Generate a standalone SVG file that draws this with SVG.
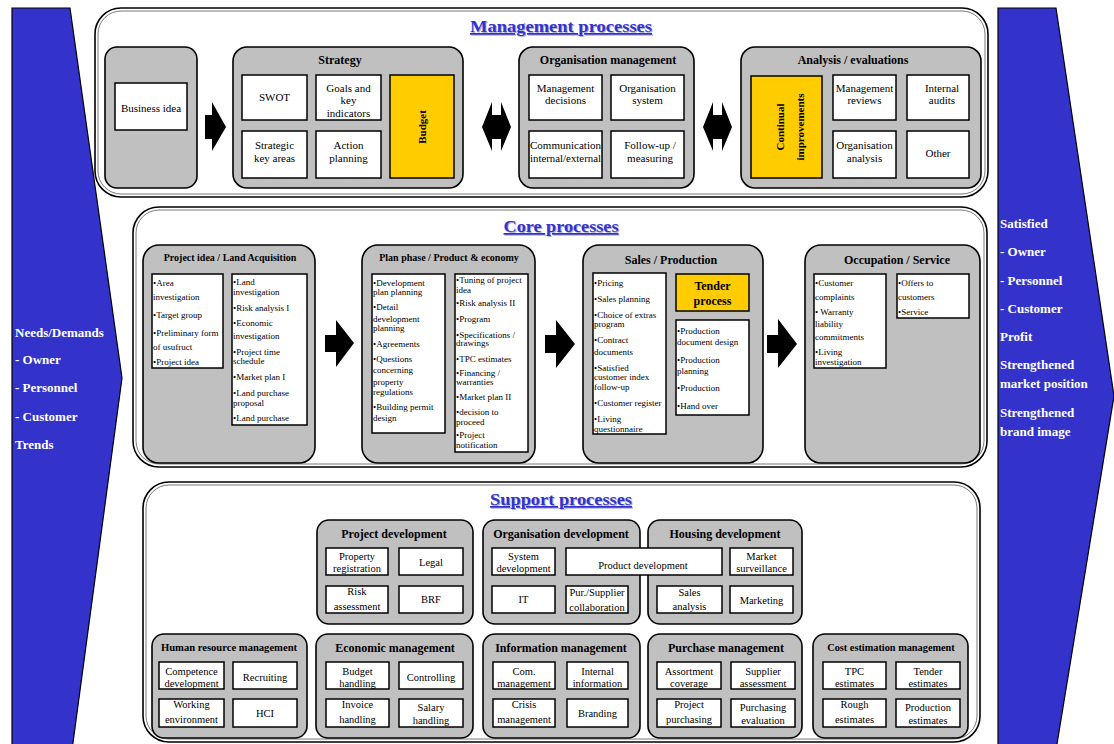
<svg xmlns="http://www.w3.org/2000/svg" width="1114" height="744" viewBox="0 0 1114 744">
<style>
.big{fill:#fff;stroke:#000;stroke-width:1.6}
.bigin{fill:none;stroke:#555;stroke-width:0.8}
.grp{fill:#c0c0c0;stroke:#000;stroke-width:1.6}
.box{fill:#fff;stroke:#000;stroke-width:1.5}
.yel{fill:#ffcc00;stroke:#000;stroke-width:1.5}
.blue{fill:#3333cc;stroke:#000;stroke-width:1.2}
.arr{fill:#000;stroke:none}
text{font-family:"Liberation Serif","Times New Roman",serif;fill:#000}
.t11{font-size:11px;text-anchor:middle}
.t10{font-size:10.5px;text-anchor:middle}
.h12{font-size:12px;font-weight:bold;text-anchor:middle}
.h10{font-size:10px;font-weight:bold;text-anchor:middle}
.li{font-size:9px}
.ttl{font-size:17px;font-weight:bold;text-anchor:middle;fill:#3333cc;text-decoration:underline}
.sh{font-size:17px;font-weight:bold;text-anchor:middle;fill:#b0b0d8;text-decoration:underline}
.side{font-size:13px;font-weight:bold;fill:#fff}
.rot{font-size:11px;font-weight:bold;text-anchor:middle;dominant-baseline:central}
</style>

<!-- side arrows -->
<g id="input-arrow">
<polygon class="blue" points="12,8 70,8 122,378 72,750 12,750"/>
<text class="side" x="15" y="337">Needs/Demands</text>
<text class="side" x="15" y="364">- Owner</text>
<text class="side" x="15" y="392">- Personnel</text>
<text class="side" x="15" y="421">- Customer</text>
<text class="side" x="15" y="449">Trends</text>
</g>
<g id="output-arrow">
<polygon class="blue" points="998,8 1056,8 1114,396 1056,750 998,750"/>
<text class="side" x="1000" y="228">Satisfied</text>
<text class="side" x="1000" y="256">- Owner</text>
<text class="side" x="1000" y="285">- Personnel</text>
<text class="side" x="1000" y="313">- Customer</text>
<text class="side" x="1000" y="341">Profit</text>
<text class="side" x="1000" y="369">Strengthened</text>
<text class="side" x="1000" y="388">market position</text>
<text class="side" x="1000" y="417">Strengthened</text>
<text class="side" x="1000" y="436">brand image</text>
</g>

<!-- Management processes -->
<g id="management">
<rect class="big" x="95" y="8" width="893" height="189" rx="26"/>
<rect class="bigin" x="98" y="11" width="887" height="183" rx="23"/>
<text class="sh" x="562" y="33" textLength="182" lengthAdjust="spacingAndGlyphs">Management processes</text>
<text class="ttl" x="561" y="32" textLength="182" lengthAdjust="spacingAndGlyphs">Management processes</text>
</g>
<g id="business-idea">
<rect class="grp" x="105" y="47" width="92" height="141" rx="12"/>
<rect class="box" x="115" y="83" width="72" height="47"/>
<text class="t11" x="151" y="112">Business idea</text>
</g>
<g id="strategy">
<rect class="grp" x="233" y="47" width="230" height="141" rx="14"/>
<text class="h12" x="340" y="64">Strategy</text>
<rect class="box" x="242" y="75" width="65" height="45"/>
<text class="t11" x="274.5" y="101">SWOT</text>
<rect class="box" x="316" y="75" width="65" height="45"/>
<text class="t11" x="348.5" y="92">Goals and</text>
<text class="t11" x="348.5" y="104">key</text>
<text class="t11" x="348.5" y="117">indicators</text>
<rect class="box" x="242" y="131" width="65" height="47"/>
<text class="t11" x="274.5" y="149">Strategic</text>
<text class="t11" x="274.5" y="162">key areas</text>
<rect class="box" x="316" y="131" width="65" height="47"/>
<text class="t11" x="348.5" y="149">Action</text>
<text class="t11" x="348.5" y="162">planning</text>
<rect class="yel" x="390" y="75" width="64" height="103"/>
<text class="rot" transform="translate(422,127) rotate(-90)">Budget</text>
</g>
<g id="organisation-management">
<rect class="grp" x="519" y="47" width="175" height="141" rx="14"/>
<text class="h12" x="608" y="64">Organisation management</text>
<rect class="box" x="529" y="75" width="73" height="45"/>
<text class="t11" x="565.5" y="92">Management</text>
<text class="t11" x="565.5" y="104">decisions</text>
<rect class="box" x="611" y="75" width="73" height="45"/>
<text class="t11" x="647.5" y="92">Organisation</text>
<text class="t11" x="647.5" y="104">system</text>
<rect class="box" x="529" y="131" width="73" height="47"/>
<text class="t11" x="565.5" y="149" textLength="71" lengthAdjust="spacingAndGlyphs">Communication</text>
<text class="t11" x="565.5" y="162" textLength="71" lengthAdjust="spacingAndGlyphs">internal/external</text>
<rect class="box" x="611" y="131" width="73" height="47"/>
<text class="t11" x="650" y="149">Follow-up /</text>
<text class="t11" x="650" y="162">measuring</text>
</g>
<g id="analysis-evaluations">
<rect class="grp" x="741" y="47" width="240" height="141" rx="14"/>
<text class="h12" x="853" y="64">Analysis / evaluations</text>
<rect class="yel" x="751" y="76" width="71" height="102"/>
<text class="rot" transform="translate(780,127) rotate(-90)">Continual</text>
<text class="rot" transform="translate(800,127) rotate(-90)">improvements</text>
<rect class="box" x="833" y="75" width="63" height="45"/>
<text class="t11" x="864.5" y="92">Management</text>
<text class="t11" x="864.5" y="104">reviews</text>
<rect class="box" x="907" y="75" width="62" height="45"/>
<text class="t11" x="942" y="92">Internal</text>
<text class="t11" x="942" y="104">audits</text>
<rect class="box" x="833" y="131" width="63" height="47"/>
<text class="t11" x="864.5" y="149">Organisation</text>
<text class="t11" x="864.5" y="162">analysis</text>
<rect class="box" x="907" y="131" width="62" height="47"/>
<text class="t11" x="938" y="157">Other</text>
</g>

<!-- Core processes -->
<g id="core">
<rect class="big" x="133" y="207" width="854" height="260" rx="26"/>
<rect class="bigin" x="136" y="210" width="848" height="254" rx="23"/>
<text class="sh" x="562" y="233" textLength="115" lengthAdjust="spacingAndGlyphs">Core processes</text>
<text class="ttl" x="561" y="232" textLength="115" lengthAdjust="spacingAndGlyphs">Core processes</text>
</g>
<g id="project-idea">
<rect class="grp" x="143" y="245" width="172" height="218" rx="16"/>
<text class="h10" x="230" y="261">Project idea / Land Acquisition</text>
<rect class="box" x="152" y="274" width="71" height="94"/>
<text class="li"><tspan x="153" y="286">•Area</tspan><tspan x="153" y="300">investigation</tspan><tspan x="153" y="318">•Target group</tspan><tspan x="153" y="336">•Preliminary form</tspan><tspan x="153" y="350">of usufruct</tspan><tspan x="153" y="365">•Project idea</tspan></text>
<rect class="box" x="232" y="274" width="75" height="151"/>
<text class="li"><tspan x="233" y="285">•Land</tspan><tspan x="233" y="295">investigation</tspan><tspan x="233" y="311">•Risk analysis I</tspan><tspan x="233" y="326">•Economic</tspan><tspan x="233" y="339">investigation</tspan><tspan x="233" y="355">•Project time</tspan><tspan x="233" y="364">schedule</tspan><tspan x="233" y="380">•Market plan I</tspan><tspan x="233" y="396">•Land purchase</tspan><tspan x="233" y="406">proposal</tspan><tspan x="233" y="421">•Land purchase</tspan></text>
</g>
<g id="plan-phase">
<rect class="grp" x="362" y="245" width="173" height="218" rx="16"/>
<text class="h10" x="449" y="261">Plan phase / Product &amp; economy</text>
<rect class="box" x="372" y="274" width="73" height="159"/>
<text class="li"><tspan x="373" y="286">•Development</tspan><tspan x="373" y="295">plan planning</tspan><tspan x="373" y="310">•Detail</tspan><tspan x="373" y="322">development</tspan><tspan x="373" y="331">planning</tspan><tspan x="373" y="347">•Agreements</tspan><tspan x="373" y="362">•Questions</tspan><tspan x="373" y="373">concerning</tspan><tspan x="373" y="385">property</tspan><tspan x="373" y="395">regulations</tspan><tspan x="373" y="410">•Building permit</tspan><tspan x="373" y="421">design</tspan></text>
<rect class="box" x="455" y="274" width="73" height="178"/>
<text class="li"><tspan x="456" y="283">•Tuning of project</tspan><tspan x="456" y="293">idea</tspan><tspan x="456" y="306">•Risk analysis II</tspan><tspan x="456" y="322">•Program</tspan><tspan x="456" y="338">•Specifications /</tspan><tspan x="456" y="346">drawings</tspan><tspan x="456" y="362">•TPC estimates</tspan><tspan x="456" y="376">•Financing /</tspan><tspan x="456" y="385">warranties</tspan><tspan x="456" y="400">•Market plan II</tspan><tspan x="456" y="415">•decision to</tspan><tspan x="456" y="425">proceed</tspan><tspan x="456" y="438">•Project</tspan><tspan x="456" y="448">notification</tspan></text>
</g>
<g id="sales-production">
<rect class="grp" x="583" y="245" width="180" height="218" rx="16"/>
<text class="h12" x="671" y="264">Sales / Production</text>
<rect class="box" x="593" y="273" width="73" height="161"/>
<text class="li"><tspan x="594" y="286">•Pricing</tspan><tspan x="594" y="302">•Sales planning</tspan><tspan x="594" y="318">•Choice of extras</tspan><tspan x="594" y="327">program</tspan><tspan x="594" y="343">•Contract</tspan><tspan x="594" y="355">documents</tspan><tspan x="594" y="371">•Satisfied</tspan><tspan x="594" y="380">customer index</tspan><tspan x="594" y="390">follow-up</tspan><tspan x="594" y="406">•Customer register</tspan><tspan x="594" y="422">•Living</tspan><tspan x="594" y="432">questionnaire</tspan></text>
<rect class="yel" x="676" y="274" width="73" height="37"/>
<text class="h12" x="712.5" y="290">Tender</text>
<text class="h12" x="712.5" y="305">process</text>
<rect class="box" x="676" y="320" width="73" height="95"/>
<text class="li"><tspan x="677" y="334">•Production</tspan><tspan x="677" y="345">document design</tspan><tspan x="677" y="363">•Production</tspan><tspan x="677" y="374">planning</tspan><tspan x="677" y="391">•Production</tspan><tspan x="677" y="409">•Hand over</tspan></text>
</g>
<g id="occupation-service">
<rect class="grp" x="805" y="245" width="175" height="218" rx="16"/>
<text class="h12" x="897" y="264">Occupation / Service</text>
<rect class="box" x="814" y="274" width="72" height="94"/>
<text class="li"><tspan x="815" y="286">•Customer</tspan><tspan x="815" y="300">complaints</tspan><tspan x="815" y="315">•  Warranty</tspan><tspan x="815" y="327">liability</tspan><tspan x="815" y="340">commitments</tspan><tspan x="815" y="355">•Living</tspan><tspan x="815" y="365">investigation</tspan></text>
<rect class="box" x="897" y="274" width="72" height="44"/>
<text class="li"><tspan x="898" y="286">•Offers to</tspan><tspan x="898" y="300">customers</tspan><tspan x="898" y="315">•Service</tspan></text>
</g>

<!-- Support processes -->
<g id="support">
<rect class="big" x="143" y="482" width="837" height="260" rx="26"/>
<rect class="bigin" x="146" y="485" width="831" height="254" rx="23"/>
<text class="sh" x="562" y="506" textLength="142" lengthAdjust="spacingAndGlyphs">Support processes</text>
<text class="ttl" x="561" y="505" textLength="142" lengthAdjust="spacingAndGlyphs">Support processes</text>
</g>
<g id="project-development">
<rect class="grp" x="317" y="520" width="156" height="104" rx="12"/>
<text class="h12" x="394" y="538">Project development</text>
<rect class="box" x="326" y="548" width="62" height="27"/>
<text class="t10" x="357" y="560">Property</text><text class="t10" x="357" y="572">registration</text>
<rect class="box" x="399" y="548" width="64" height="27"/>
<text class="t10" x="431" y="566">Legal</text>
<rect class="box" x="326" y="586" width="62" height="27"/>
<text class="t10" x="357" y="595">Risk</text><text class="t10" x="357" y="610">assessment</text>
<rect class="box" x="399" y="586" width="64" height="27"/>
<text class="t10" x="431" y="603">BRF</text>
</g>
<g id="organisation-development">
<rect class="grp" x="483" y="520" width="157" height="104" rx="12"/>
<text class="h12" x="561" y="538">Organisation development</text>
<rect class="box" x="492" y="548" width="63" height="27"/>
<text class="t10" x="523.5" y="560">System</text><text class="t10" x="523.5" y="572">development</text>
<rect class="box" x="492" y="586" width="63" height="27"/>
<text class="t10" x="523.5" y="603">IT</text>
<rect class="box" x="566" y="586" width="62" height="27"/>
<text class="t10" x="597" y="596">Pur./Supplier</text><text class="t10" x="597" y="611">collaboration</text>
</g>
<g id="housing-development">
<rect class="grp" x="648" y="520" width="154" height="104" rx="12"/>
<text class="h12" x="725" y="538">Housing development</text>
<rect class="box" x="730" y="548" width="63" height="27"/>
<text class="t10" x="761.5" y="560">Market</text><text class="t10" x="761.5" y="572">surveillance</text>
<rect class="box" x="657" y="586" width="65" height="27"/>
<text class="t10" x="689.5" y="596">Sales</text><text class="t10" x="689.5" y="610">analysis</text>
<rect class="box" x="730" y="586" width="63" height="27"/>
<text class="t10" x="761.5" y="604">Marketing</text>
</g>
<g id="product-development">
<rect class="box" x="566" y="548" width="156" height="27"/>
<text class="t10" x="643" y="569">Product development</text>
</g>
<g id="human-resource-management">
<rect class="grp" x="152" y="634" width="155" height="104" rx="12"/>
<text class="h10" x="229" y="651" style="font-size:10.6px">Human resource management</text>
<rect class="box" x="159" y="662" width="65" height="27"/>
<text class="t10" x="191.5" y="675">Competence</text><text class="t10" x="191.5" y="687">development</text>
<rect class="box" x="233" y="662" width="64" height="27"/>
<text class="t10" x="265" y="681">Recruiting</text>
<rect class="box" x="159" y="699" width="65" height="28"/>
<text class="t10" x="191.5" y="708">Working</text><text class="t10" x="191.5" y="723">environment</text>
<rect class="box" x="233" y="699" width="64" height="28"/>
<text class="t10" x="265" y="717">HCI</text>
</g>
<g id="economic-management">
<rect class="grp" x="316" y="634" width="157" height="104" rx="12"/>
<text class="h12" x="395" y="652">Economic management</text>
<rect class="box" x="326" y="662" width="63" height="27"/>
<text class="t10" x="357.5" y="675">Budget</text><text class="t10" x="357.5" y="687">handling</text>
<rect class="box" x="399" y="662" width="64" height="27"/>
<text class="t10" x="431" y="681">Controlling</text>
<rect class="box" x="326" y="699" width="63" height="28"/>
<text class="t10" x="357.5" y="708">Invoice</text><text class="t10" x="357.5" y="723">handling</text>
<rect class="box" x="399" y="699" width="64" height="28"/>
<text class="t10" x="431" y="711">Salary</text><text class="t10" x="431" y="724">handling</text>
</g>
<g id="information-management">
<rect class="grp" x="483" y="634" width="157" height="104" rx="12"/>
<text class="h12" x="561" y="652">Information management</text>
<rect class="box" x="493" y="662" width="62" height="27"/>
<text class="t10" x="524" y="675">Com.</text><text class="t10" x="524" y="687">management</text>
<rect class="box" x="567" y="662" width="61" height="27"/>
<text class="t10" x="597.5" y="675">Internal</text><text class="t10" x="597.5" y="687">information</text>
<rect class="box" x="493" y="699" width="62" height="28"/>
<text class="t10" x="524" y="708">Crisis</text><text class="t10" x="524" y="723">management</text>
<rect class="box" x="567" y="699" width="61" height="28"/>
<text class="t10" x="597.5" y="717">Branding</text>
</g>
<g id="purchase-management">
<rect class="grp" x="648" y="634" width="154" height="104" rx="12"/>
<text class="h12" x="726" y="652">Purchase management</text>
<rect class="box" x="657" y="662" width="64" height="27"/>
<text class="t10" x="689" y="675">Assortment</text><text class="t10" x="689" y="687">coverage</text>
<rect class="box" x="731" y="662" width="64" height="27"/>
<text class="t10" x="763" y="675">Supplier</text><text class="t10" x="763" y="687">assessment</text>
<rect class="box" x="657" y="699" width="64" height="28"/>
<text class="t10" x="689" y="708">Project</text><text class="t10" x="689" y="723">purchasing</text>
<rect class="box" x="731" y="699" width="64" height="28"/>
<text class="t10" x="763" y="711">Purchasing</text><text class="t10" x="763" y="724">evaluation</text>
</g>
<g id="cost-estimation-management">
<rect class="grp" x="813" y="634" width="155" height="104" rx="12"/>
<text class="h10" x="891" y="651" style="font-size:10.3px">Cost estimation management</text>
<rect class="box" x="823" y="662" width="63" height="27"/>
<text class="t10" x="854.5" y="675">TPC</text><text class="t10" x="854.5" y="687">estimates</text>
<rect class="box" x="896" y="662" width="64" height="27"/>
<text class="t10" x="928" y="675">Tender</text><text class="t10" x="928" y="687">estimates</text>
<rect class="box" x="823" y="699" width="63" height="28"/>
<text class="t10" x="854.5" y="708">Rough</text><text class="t10" x="854.5" y="723">estimates</text>
<rect class="box" x="896" y="699" width="64" height="28"/>
<text class="t10" x="928" y="711">Production</text><text class="t10" x="928" y="724">estimates</text>
</g>

<!-- connectors -->
<g id="connectors">
<polygon class="arr" points="205,115 212,115 212,102 226,127 212,151 212,139 205,139"/>
<polygon class="arr" points="482,127 492,102 492,115 501,115 501,102 511,127 501,151 501,139 492,139 492,151"/>
<polygon class="arr" points="703,127 713,102 713,115 722,115 722,102 732,127 722,151 722,139 713,139 713,151"/>
<polygon class="arr" points="325,335 336,335 336,320 354,343 336,367 336,352 325,352"/>
<polygon class="arr" points="545,335 556,335 556,320 575,344 556,368 556,353 545,353"/>
<polygon class="arr" points="767,335 778,335 778,319 797,344 778,368 778,353 767,353"/>
</g>
</svg>
